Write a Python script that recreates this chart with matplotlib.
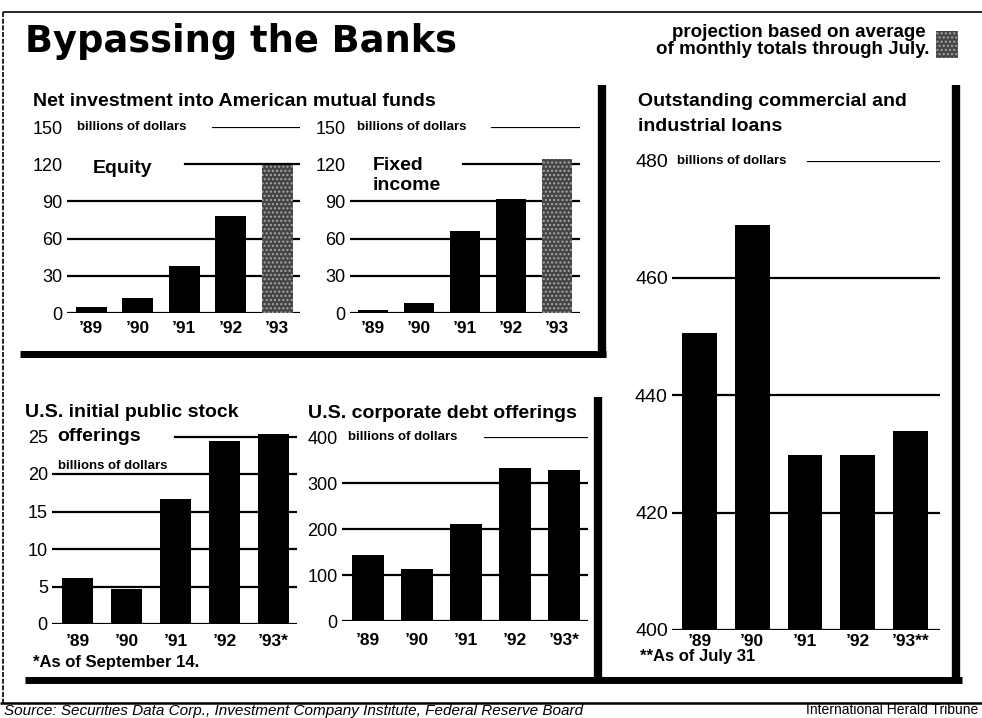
import matplotlib.pyplot as plt
from matplotlib.lines import Line2D
from matplotlib.patches import Rectangle

plt.rcParams['font.family'] = ['Liberation Sans', 'DejaVu Sans']

years = ["’89", "’90", "’91", "’92", "’93"]
years_ipo = ["’89", "’90", "’91", "’92", "’93*"]
years_loans = ["’89", "’90", "’91", "’92", "’93**"]
equity = [5, 12, 38, 78, 119]
fixed_income = [2.5, 8, 66, 92, 124]
projected = [False, False, False, False, True]
ipo = [6.1, 4.7, 16.7, 24.4, 25.4]
debt = [143, 113, 211, 333, 328]
loans = [450.6, 469.0, 429.8, 429.8, 433.9]

fund_ticks = [0, 30, 60, 90, 120, 150]
ipo_ticks = [0, 5, 10, 15, 20, 25]
debt_ticks = [0, 100, 200, 300, 400]
loan_ticks = [400, 420, 440, 460, 480]

W, H = 982, 718
fig = plt.figure(figsize=(W / 100, H / 100), dpi=100)
fig.patch.set_facecolor('white')


def box(x0, y0, x1, y1):
    # axes placed in pixel coordinates (origin top-left)
    return fig.add_axes([x0 / W, 1 - y1 / H, (x1 - x0) / W, (y1 - y0) / H])


def ftext(x, y, s, **kw):
    fig.text(x / W, 1 - y / H, s, **kw)


def fline(xs, ys, lw, **kw):
    fig.add_artist(Line2D([x / W for x in xs], [1 - y / H for y in ys],
                          color='black', lw=lw, solid_capstyle='butt', **kw))


def bar_panel(ax, values, ticks, year_labels, xlim, ylim, width, grid_starts,
              ysize=13, xpad=6, proj=None):
    ax.set_xlim(*xlim)
    ax.set_ylim(*ylim)
    for s in ax.spines.values():
        s.set_visible(False)
    ax.patch.set_alpha(0)
    for t, f in zip(ticks, grid_starts):
        ax.axhline(t, xmin=f, xmax=1, color='black', lw=1.6, zorder=1)
    if proj is None:
        proj = [False] * len(values)
    for i, (v, p) in enumerate(zip(values, proj)):
        if p:
            ax.bar(i, v, width=width, color='#454545', edgecolor='#a8a8a8',
                   hatch='....', lw=0, zorder=2)
        else:
            ax.bar(i, v, width=width, color='black', lw=0, zorder=2)
    ax.set_yticks(ticks, labels=[str(t) for t in ticks])
    ax.set_xticks(range(len(values)), labels=year_labels)
    ax.tick_params(axis='y', length=0, pad=3, labelsize=ysize)
    ax.tick_params(axis='x', length=0, pad=xpad, labelsize=12.5)
    for lbl in ax.get_xticklabels():
        lbl.set_fontweight('bold')


# mutual funds: equity
ax1 = box(67, 127, 300, 313)
bar_panel(ax1, equity, fund_ticks, years, (-0.52, 4.49), (0, 150), 0.67,
          [0, 0, 0, 0, 0.506, 0.627], xpad=6, proj=projected)
ax1.text(0.11, 0.755, 'Equity', transform=ax1.transAxes, fontsize=14,
         fontweight='bold', va='baseline')
ax1.text(0.045, 1.0, 'billions of dollars', transform=ax1.transAxes,
         fontsize=9.5, fontweight='bold', va='center')

# mutual funds: fixed income
ax2 = box(350, 127, 580, 313)
bar_panel(ax2, fixed_income, fund_ticks, years, (-0.5, 4.5), (0, 150), 0.65,
          [0, 0, 0, 0, 0.49, 0.617], xpad=6, proj=projected)
ax2.text(0.1, 0.768, 'Fixed', transform=ax2.transAxes, fontsize=14,
         fontweight='bold', va='baseline')
ax2.text(0.1, 0.661, 'income', transform=ax2.transAxes, fontsize=14,
         fontweight='bold', va='baseline')
ax2.text(0.03, 1.0, 'billions of dollars', transform=ax2.transAxes,
         fontsize=9.5, fontweight='bold', va='center')

# IPOs
ax3 = box(52, 429, 297, 624)
bar_panel(ax3, ipo, ipo_ticks, years_ipo, (-0.52, 4.48), (0, 26), 0.65,
          [0, 0, 0, 0, 0, 0.5], xpad=7)
ax3.text(0.025, 0.795, 'billions of dollars', transform=ax3.transAxes,
         fontsize=9.5, fontweight='bold', va='baseline')

# corporate debt
ax4 = box(342, 437, 588, 621)
bar_panel(ax4, debt, debt_ticks, years_ipo, (-0.53, 4.49), (0, 400), 0.64,
          [0, 0, 0, 0, 0.58], xpad=8.5)
ax4.text(0.025, 1.0, 'billions of dollars', transform=ax4.transAxes,
         fontsize=9.5, fontweight='bold', va='center')

# commercial and industrial loans
ax5 = box(672, 160.5, 940, 630)
bar_panel(ax5, loans, loan_ticks, years_loans, (-0.52, 4.56), (400, 480), 0.66,
          [0, 0, 0, 0, 0.507], ysize=14, xpad=3)
ax5.text(0.02, 1.0, 'billions of dollars', transform=ax5.transAxes,
         fontsize=9.5, fontweight='bold', va='center')

# headings
ftext(25, 52, 'Bypassing the Banks', fontsize=26.5, fontweight='bold',
      family='DejaVu Sans', va='baseline')
ftext(926, 37, 'projection based on average', fontsize=13.5, fontweight='bold',
      ha='right', va='baseline')
ftext(929, 54, 'of monthly totals through July.', fontsize=13.5, fontweight='bold',
      ha='right', va='baseline')
fig.add_artist(Rectangle((936 / W, 1 - 58 / H), 22 / W, 27 / H, transform=fig.transFigure,
                         facecolor='#454545', edgecolor='#a8a8a8', hatch='....', lw=0))
ftext(33, 106, 'Net investment into American mutual funds', fontsize=14,
      fontweight='bold', va='baseline')
ftext(638, 106, 'Outstanding commercial and', fontsize=14, fontweight='bold', va='baseline')
ftext(638, 131, 'industrial loans', fontsize=14, fontweight='bold', va='baseline')
ftext(25, 417, 'U.S. initial public stock', fontsize=14, fontweight='bold', va='baseline')
ftext(57, 441, 'offerings', fontsize=14, fontweight='bold', va='baseline')
ftext(308, 418, 'U.S. corporate debt offerings', fontsize=14, fontweight='bold', va='baseline')
ftext(33, 662, '*As of September 14.', fontsize=12, fontweight='bold', va='center')
ftext(640, 656, '**As of July 31', fontsize=12, fontweight='bold', va='center')
ftext(4, 717.5, 'Source: Securities Data Corp., Investment Company Institute, Federal Reserve Board',
      fontsize=11, style='italic', va='bottom')
ftext(978, 717.5, 'International Herald Tribune', fontsize=10, ha='right', va='bottom')

# frame bars
fline([20, 606], [354, 354], 5)
fline([602, 602], [85, 357], 6)
fline([598, 598], [397, 683], 6)
fline([25, 962], [680, 680], 5)
fline([956, 956], [85, 683], 6)
fline([3, 982], [12, 12], 1.2)
fline([3, 3], [12, 703], 1.2, ls=(0, (3, 1)))
fline([0, 982], [703, 703], 1.8)

fig.savefig('out.png', dpi=100)
